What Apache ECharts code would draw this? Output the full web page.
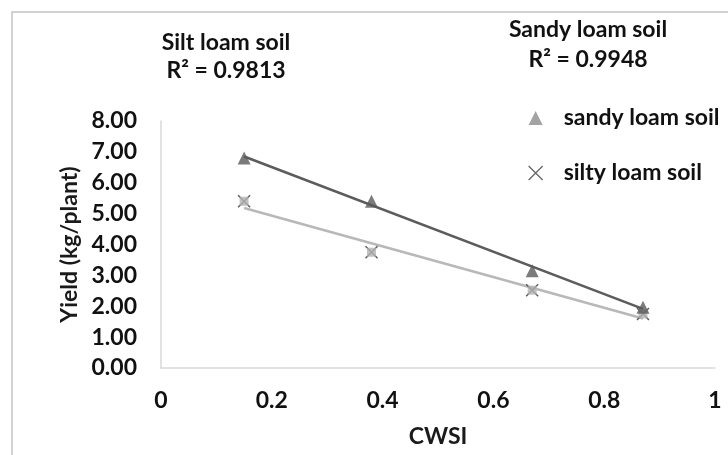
<!DOCTYPE html>
<html>
<head>
<meta charset="utf-8">
<script src="https://cdn.jsdelivr.net/npm/echarts@6/dist/echarts.min.js"></script>
<style>
  html, body { margin: 0; padding: 0; background: #fff; }
  #chart { width: 728px; height: 455px; }
</style>
</head>
<body>
<div id="chart"></div>
<script>
// CWSI (crop water stress index) at each irrigation level
const cwsi = [0.15, 0.38, 0.67, 0.87];
// Yield (kg/plant) per soil type
const sandyYield = [6.80, 5.40, 3.15, 1.97];
const siltyYield = [5.40, 3.75, 2.52, 1.75];
const sandyName = 'sandy loam soil';
const siltyName = 'silty loam soil';
const yTicks = { min: 0, max: 8, step: 1 };
const xTicks = { min: 0, max: 1, step: 0.2 };

// least-squares linear trend over the measured points
function linearFit(xs, ys) {
  const n = xs.length;
  const mx = xs.reduce((a, b) => a + b, 0) / n;
  const my = ys.reduce((a, b) => a + b, 0) / n;
  let sxy = 0, sxx = 0;
  for (let i = 0; i < n; i++) {
    sxy += (xs[i] - mx) * (ys[i] - my);
    sxx += (xs[i] - mx) * (xs[i] - mx);
  }
  const slope = sxy / sxx;
  const icpt = my - slope * mx;
  const x0 = Math.min(...xs), x1 = Math.max(...xs);
  return [[x0, icpt + slope * x0], [x1, icpt + slope * x1]];
}

const pts = (xs, ys) => xs.map((x, i) => [x, ys[i]]);
const FONT = 'Lato, "Open Sans", sans-serif';
const FS = 23;
const crossPath = 'path://M0,0L10,10M10,0L0,10';

const chart = echarts.init(document.getElementById('chart'));
chart.setOption({
  animation: false,
  backgroundColor: '#ffffff',
  textStyle: { fontFamily: FONT },
  grid: { left: 161, right: 13, top: 121, bottom: 87 },
  xAxis: {
    type: 'value',
    min: xTicks.min, max: xTicks.max, interval: xTicks.step,
    name: 'CWSI', nameLocation: 'middle', nameGap: 57,
    nameTextStyle: { fontFamily: FONT, fontWeight: 'bold', fontSize: FS, color: '#1a1a1a' },
    axisLine: { show: true, lineStyle: { color: '#d9d9d9', width: 1.5 } },
    axisTick: { show: false },
    splitLine: { show: false },
    axisLabel: { margin: 21, fontFamily: FONT, fontWeight: 'bold', fontSize: FS, color: '#111' }
  },
  yAxis: {
    type: 'value',
    min: yTicks.min, max: yTicks.max, interval: yTicks.step,
    name: 'Yield (kg/plant)', nameLocation: 'middle', nameGap: 76,
    nameTextStyle: { fontFamily: FONT, fontWeight: 'bold', fontSize: FS, color: '#1a1a1a' },
    axisLine: { show: true, lineStyle: { color: '#d9d9d9', width: 1.5 } },
    axisTick: { show: false },
    splitLine: { show: false },
    axisLabel: { margin: 24, fontFamily: FONT, fontWeight: 'bold', fontSize: FS, color: '#111',
      formatter: v => v.toFixed(2) }
  },
  legend: {
    orient: 'vertical', left: 528, top: 106, itemGap: 31, padding: 0,
    itemWidth: 14, itemHeight: 14,
    selectedMode: false,
    textStyle: { fontFamily: FONT, fontWeight: 'bold', fontSize: FS, lineHeight: 24, color: '#111', padding: [0, 0, 0, 16] },
    data: [
      { name: sandyName, icon: 'triangle', itemStyle: { color: '#8c8c8c' } },
      { name: siltyName, icon: crossPath, itemStyle: { color: 'transparent', borderColor: '#404040', borderWidth: 1.3 } }
    ]
  },
  series: [
    { name: 'sandy trend', type: 'line', data: linearFit(cwsi, sandyYield), symbol: 'none', silent: true,
      lineStyle: { color: '#5c5c5c', width: 2.5 }, z: 2 },
    { name: 'silty trend', type: 'line', data: linearFit(cwsi, siltyYield), symbol: 'none', silent: true,
      lineStyle: { color: '#b8b8b8', width: 2.5 }, z: 2 },
    { name: 'silty cross', type: 'scatter', data: pts(cwsi, siltyYield), symbol: crossPath, symbolSize: 12,
      itemStyle: { color: 'transparent', borderColor: '#333', borderWidth: 1.5 }, z: 3 },
    { name: siltyName, type: 'scatter', data: pts(cwsi, siltyYield), symbol: 'rect', symbolSize: 9,
      itemStyle: { color: '#b3b3b3' }, z: 4 },
    { name: sandyName, type: 'scatter', data: pts(cwsi, sandyYield), symbol: 'triangle', symbolSize: 13,
      itemStyle: { color: '#5a5a5a' }, z: 5 }
  ],
  graphic: [
    { type: 'rect', shape: { x: 12, y: 12, width: 760, height: 480 },
      style: { fill: 'none', stroke: '#c4c4c4', lineWidth: 1.5 }, silent: true },
    { type: 'text', x: 226, y: 43, style: { text: 'Silt loam soil', align: 'center', verticalAlign: 'middle',
      font: 'bold ' + FS + 'px ' + FONT, fill: '#111' } },
    { type: 'text', x: 226, y: 71, style: { text: 'R² = 0.9813', align: 'center', verticalAlign: 'middle',
      font: 'bold ' + FS + 'px ' + FONT, fill: '#111' } },
    { type: 'text', x: 588, y: 30, style: { text: 'Sandy loam soil', align: 'center', verticalAlign: 'middle',
      font: 'bold ' + FS + 'px ' + FONT, fill: '#111' } },
    { type: 'text', x: 588, y: 60, style: { text: 'R² = 0.9948', align: 'center', verticalAlign: 'middle',
      font: 'bold ' + FS + 'px ' + FONT, fill: '#111' } }
  ]
});
</script>
</body>
</html>
